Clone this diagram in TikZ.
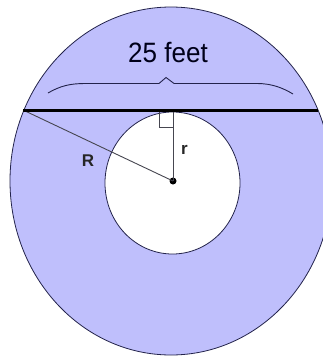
\documentclass[tikz,border=0pt]{standalone}
\usepackage{fontspec}
\setmainfont{Liberation Sans}
\definecolor{ringfill}{RGB}{191,191,252}
\definecolor{edge}{RGB}{35,35,75}
\definecolor{radline}{RGB}{70,70,80}
\begin{document}
\begin{tikzpicture}[x=1pt,y=-1pt,
  outline/.style={draw=edge,line width=0.8pt},
  radius line/.style={draw=radline,line width=0.9pt},
  lbl/.style={font=\fontsize{17}{17}\selectfont\bfseries,text=black!85,inner sep=0pt}]
\useasboundingbox (0,0) rectangle (323,356);
\clip (0,0) rectangle (323,356);
\fill[white] (0,0) rectangle (323,356);
% outer disc
\draw[outline,fill=ringfill] (171,181) ellipse [x radius=161, y radius=174];
% inner hole
\draw[outline,fill=white] (172.5,183) ellipse [x radius=67.5, y radius=71];
% chord
\coordinate (chL) at (23,110);
\coordinate (chR) at (318,110);
\coordinate (foot) at (173,111.5);
\node[circle,fill=black,inner sep=0pt,minimum size=7pt] (ctr) at (173,181) {};
\draw[radius line] (chL) -- (ctr.center);
\draw[radius line] (foot) -- (ctr.center);
\draw[draw=radline,line width=0.9pt] (159,111.5) -- (159,127.5) -- (173,127.5);
\draw[black,line width=3pt] (chL) -- (chR);
% brace
\draw[edge,line width=0.9pt] (48,93) .. controls (60,86) and (70,83.5) .. (85,83.5)
  -- (159,83.5) -- (166,77.5) -- (174,83.5) -- (257,83.5)
  .. controls (272,83.5) and (283,88) .. (293,94);
% labels
\node[font=\fontsize{28}{28}\selectfont,text=black!90!blue,inner sep=0pt,anchor=base,xscale=0.93,transform shape] (len) at (168,62) {25 feet};
\node[lbl] (Rl) at (88,161) {R};
\node[lbl] (rl) at (184.5,150) {r};
\end{tikzpicture}
\end{document}
